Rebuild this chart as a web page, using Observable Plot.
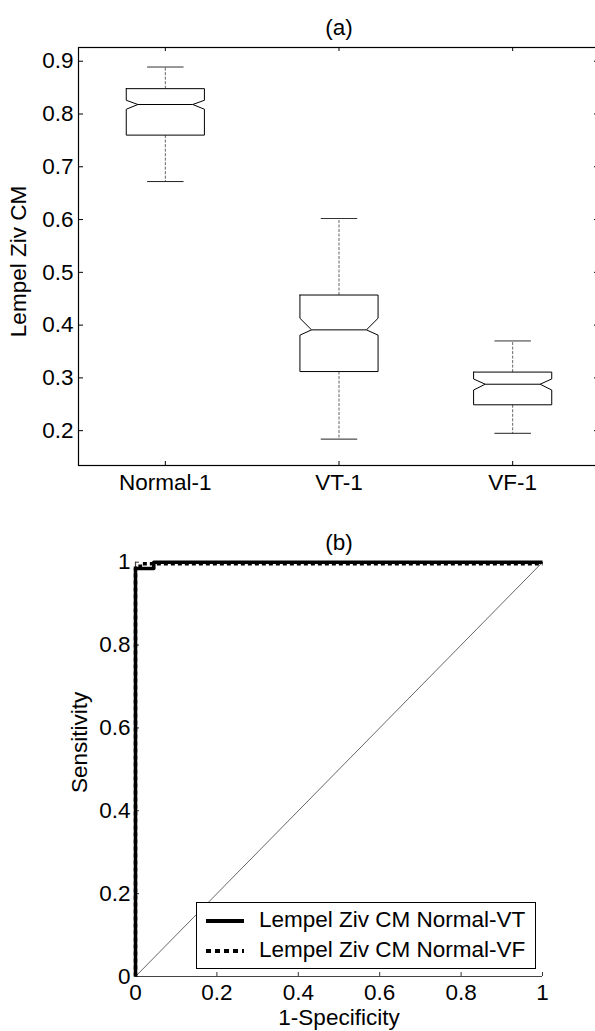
<!DOCTYPE html>
<html>
<head>
<meta charset="utf-8">
<script src="https://cdn.jsdelivr.net/npm/d3@7"></script>
<script src="https://cdn.jsdelivr.net/npm/@observablehq/plot@0.6"></script>
<style>
  html, body { margin: 0; padding: 0; background: white; }
  #page { position: relative; width: 595px; height: 1031px; overflow: hidden; background: white; font-family: "Liberation Sans", Arial, sans-serif; }
  #top, #bottom { position: absolute; left: 0; }
  #top { top: 0; }
  #bottom { top: 510px; }
  svg { display: block; }
  #legend { position: absolute; left: 196px; top: 902px; width: 340px; height: 67px; box-sizing: border-box; border: 1px solid black; background: white; font-size: 22.5px; color: black; }
  .row { position: absolute; left: 0; height: 30px; width: 100%; }
  .row svg { position: absolute; left: 9px; top: 13px; }
  .row span { position: absolute; left: 62px; top: 2px; line-height: 25px; white-space: nowrap; }
</style>
</head>
<body>
<div id="page">
  <div id="top"></div>
  <div id="bottom"></div>
  <div id="legend"></div>
</div>
<script>
// ---------- Data: (a) notched box plot ----------
const categories = ["Normal-1", "VT-1", "VF-1"];
const whiskerLo = [0.672, 0.184, 0.195];
const quart1    = [0.760, 0.312, 0.249];
const notchLo   = [0.809, 0.381, 0.277];
const medians   = [0.818, 0.391, 0.288];
const notchHi   = [0.826, 0.413, 0.298];
const quart3    = [0.848, 0.457, 0.311];
const whiskerHi = [0.889, 0.602, 0.370];
const boxYTicks = [0.2, 0.3, 0.4, 0.5, 0.6, 0.7, 0.8, 0.9];

// ---------- Data: (b) ROC curves ----------
const rocTicks = [0, 0.2, 0.4, 0.6, 0.8, 1];
const vtFpr = [0, 0, 0.045, 0.045, 1];
const vtTpr = [0, 0.985, 0.985, 1, 1];
const vfFpr = [0, 0, 0.012, 0.012, 1];
const vfTpr = [0, 0.99, 0.99, 0.996, 0.996];
const chance = [0, 1];
const seriesNames = ["Lempel Ziv CM Normal-VT", "Lempel Ziv CM Normal-VF"];

const FONT = "'Liberation Sans', Arial, sans-serif";
const FS = 22.5;

// ---------- (a) ----------
const BW = 0.225, NOTCH = 0.067, CAP = 0.105;
const boxes = categories.map((c, i) => ({
  c, p: i + 1, lo: whiskerLo[i], q1: quart1[i], nLo: notchLo[i],
  med: medians[i], nHi: notchHi[i], q3: quart3[i], hi: whiskerHi[i]
}));
const outline = boxes.flatMap(b => [
  [b.p - BW, b.q3], [b.p + BW, b.q3], [b.p + BW, b.nHi], [b.p + BW - NOTCH, b.med],
  [b.p + BW, b.nLo], [b.p + BW, b.q1], [b.p - BW, b.q1], [b.p - BW, b.nLo],
  [b.p - BW + NOTCH, b.med], [b.p - BW, b.nHi], [b.p - BW, b.q3]
].map(([x, y]) => ({c: b.c, x, y})));

const topW = 595, topH = 510, tML = 78, tMR = -4, tMT = 47, tMB = 45;
const tFW = topW - tML - tMR, tFH = topH - tMT - tMB;

const plotA = Plot.plot({
  width: topW, height: topH,
  marginLeft: tML, marginRight: tMR, marginTop: tMT, marginBottom: tMB,
  style: {fontFamily: FONT, fontSize: FS + "px", background: "white", color: "black"},
  x: {domain: [0.5, 3.5], ticks: [1, 2, 3], tickFormat: d => categories[d - 1], tickSize: 0, tickPadding: 9, label: null},
  y: {domain: [0.134, 0.926], ticks: boxYTicks, tickFormat: d3.format(".1f"), tickSize: 0, tickPadding: 5, label: null},
  marks: [
    Plot.frame({stroke: "black", strokeWidth: 1.2}),
    Plot.ruleY(boxYTicks, {insetRight: tFW - 5, stroke: "black"}),
    Plot.ruleY(boxYTicks, {insetLeft: tFW - 5, stroke: "black"}),
    Plot.ruleX(boxes, {x: "p", insetTop: tFH - 4, stroke: "black"}),
    Plot.ruleX(boxes, {x: "p", insetBottom: tFH - 4, stroke: "black"}),
    Plot.link(boxes, {x1: "p", x2: "p", y1: "q3", y2: "hi", stroke: "#666", strokeDasharray: "3,1.5"}),
    Plot.link(boxes, {x1: "p", x2: "p", y1: "q1", y2: "lo", stroke: "#666", strokeDasharray: "3,1.5"}),
    Plot.link(boxes, {x1: b => b.p - CAP, x2: b => b.p + CAP, y1: "hi", y2: "hi", stroke: "#333"}),
    Plot.link(boxes, {x1: b => b.p - CAP, x2: b => b.p + CAP, y1: "lo", y2: "lo", stroke: "#222"}),
    Plot.line(outline, {x: "x", y: "y", z: "c", stroke: "black", strokeWidth: 1, curve: "linear"}),
    Plot.link(boxes, {x1: b => b.p - BW + NOTCH, x2: b => b.p + BW - NOTCH, y1: "med", y2: "med", stroke: "black"}),
    Plot.text(["(a)"], {frameAnchor: "top", text: d => d, dy: -20, fontSize: FS, lineAnchor: "middle", textAnchor: "middle"}),
    Plot.text(["Lempel Ziv CM"], {frameAnchor: "left", text: d => d, rotate: -90, dx: -60, dy: 5, fontSize: FS, lineAnchor: "middle", textAnchor: "middle"})
  ]
});
document.getElementById("top").appendChild(plotA);

// ---------- (b) ----------
const botW = 595, botH = 521, bML = 135, bMR = 53, bMT = 51.7, bMB = 55;
const bFW = botW - bML - bMR, bFH = botH - bMT - bMB;
const vt = vtFpr.map((x, i) => ({x, y: vtTpr[i]}));
const vf = vfFpr.map((x, i) => ({x, y: vfTpr[i]}));
const diag = chance.map(v => ({x: v, y: v}));

const plotB = Plot.plot({
  width: botW, height: botH,
  marginLeft: bML, marginRight: bMR, marginTop: bMT, marginBottom: bMB,
  style: {fontFamily: FONT, fontSize: FS + "px", background: "white", color: "black"},
  x: {domain: [0, 1], ticks: rocTicks, tickFormat: d => String(d), tickSize: 0, tickPadding: 8, label: null},
  y: {domain: [0, 1], ticks: rocTicks, tickFormat: d => String(d), tickSize: 0, tickPadding: 5, label: null},
  marks: [
    Plot.ruleY([0], {stroke: "#444", strokeWidth: 1.2}),
    Plot.ruleX([0], {stroke: "#444", strokeWidth: 1.2}),
    Plot.ruleX(rocTicks, {insetTop: bFH - 4, stroke: "#333"}),
    Plot.ruleY(rocTicks, {insetRight: bFW - 4, stroke: "#333"}),
    Plot.line(diag, {x: "x", y: "y", stroke: "#555", strokeWidth: 0.9}),
    Plot.line(vf, {x: "x", y: "y", stroke: "black", strokeWidth: 3.5, strokeDasharray: "4,3", strokeLinecap: "butt"}),
    Plot.line(vt, {x: "x", y: "y", stroke: "black", strokeWidth: 3.5, strokeLinecap: "butt"}),
    Plot.text(["(b)"], {frameAnchor: "top", text: d => d, dy: -19, fontSize: FS, lineAnchor: "middle", textAnchor: "middle"}),
    Plot.text(["Sensitivity"], {frameAnchor: "left", text: d => d, rotate: -90, dx: -56, dy: -27, fontSize: FS, lineAnchor: "middle", textAnchor: "middle"}),
    Plot.text(["1-Specificity"], {frameAnchor: "bottom", text: d => d, dy: 41, fontSize: FS, lineAnchor: "middle", textAnchor: "middle"})
  ]
});
document.getElementById("bottom").appendChild(plotB);

// ---------- Legend ----------
const legend = document.getElementById("legend");
const dashes = ["", "5,4"];
seriesNames.forEach((name, i) => {
  const row = document.createElement("div");
  row.className = "row";
  row.style.top = (i * 30 + 2) + "px";
  row.innerHTML = `<svg width="38" height="6"><line x1="0" y1="3" x2="38" y2="3" stroke="black" stroke-width="4" ${dashes[i] ? `stroke-dasharray="${dashes[i]}"` : ""}/></svg><span>${name}</span>`;
  legend.appendChild(row);
});
</script>
</body>
</html>
